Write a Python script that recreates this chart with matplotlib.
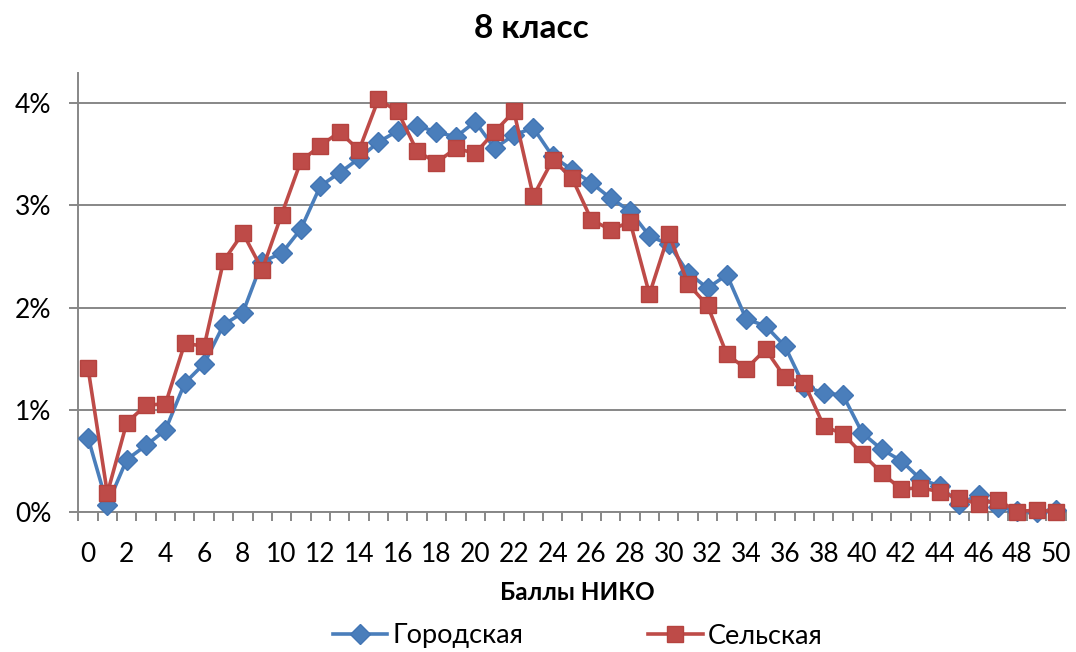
import matplotlib
matplotlib.use('Agg')
import matplotlib.pyplot as plt

# ---- data (percent of participants by score) ----
scores = list(range(51))
gorodskaya = [0.725, 0.066, 0.51, 0.65, 0.80, 1.26, 1.45, 1.83, 1.95, 2.45,
              2.53, 2.77, 3.19, 3.32, 3.46, 3.62, 3.73, 3.78, 3.72, 3.67,
              3.82, 3.56, 3.69, 3.76, 3.48, 3.35, 3.22, 3.07, 2.945, 2.70,
              2.62, 2.34, 2.19, 2.32, 1.885, 1.82, 1.62, 1.225, 1.165, 1.14,
              0.77, 0.61, 0.50, 0.32, 0.25, 0.08, 0.16, 0.05, 0.01, 0.0, 0.02]
selskaya = [1.41, 0.18, 0.87, 1.045, 1.055, 1.65, 1.62, 2.455, 2.73, 2.37,
            2.91, 3.435, 3.585, 3.72, 3.54, 4.04, 3.92, 3.53, 3.42, 3.56,
            3.51, 3.72, 3.92, 3.09, 3.445, 3.27, 2.86, 2.76, 2.84, 2.13,
            2.72, 2.23, 2.02, 1.54, 1.40, 1.59, 1.315, 1.26, 0.84, 0.76,
            0.565, 0.38, 0.22, 0.235, 0.195, 0.13, 0.075, 0.115, 0.0, 0.017, 0.0]
series_names = ['Городская', 'Сельская']
y_ticks = [0, 1, 2, 3, 4]
y_tick_labels = ['0%', '1%', '2%', '3%', '4%']
x_tick_values = scores[::2]
x_tick_labels = [str(v) for v in x_tick_values]
title = '8 класс'
x_label = 'Баллы НИКО'

FONT = ['Lato', 'Open Sans', 'DejaVu Sans']
plt.rcParams['font.family'] = FONT

W, H = 1076, 652
fig = plt.figure(figsize=(W / 100, H / 100), dpi=100)
left, right, top, bottom = 78.3, 1065.7, 73.3, 511.7
ax = fig.add_axes([left / W, 1 - bottom / H, (right - left) / W, (bottom - top) / H])

grid_c = '#878787'
blue = '#4A7EBB'
red = '#BE4B48'

ax.plot(scores, gorodskaya, color=blue, lw=2.6, marker='D', ms=10,
        mfc=blue, mec='#4275B4', mew=1, label=series_names[0], clip_on=False, zorder=3)
ax.plot(scores, selskaya, color=red, lw=2.6, marker='s', ms=11.5,
        mfc=red, mec='#B5433F', mew=1, label=series_names[1], clip_on=False, zorder=4)

ax.set_xlim(-0.5, 50.5)
ax.set_ylim(0, 4.294)

ax.set_yticks(y_ticks)
ax.set_yticklabels(y_tick_labels)
ax.yaxis.grid(True, color=grid_c, lw=1.4)
ax.set_axisbelow(True)

for s in ['top', 'right']:
    ax.spines[s].set_visible(False)
for s in ['left', 'bottom']:
    ax.spines[s].set_color(grid_c)
    ax.spines[s].set_linewidth(1.4)

ax.set_xticks(x_tick_values)
ax.set_xticklabels(x_tick_labels)
ax.set_xticks([i - 0.5 for i in range(len(scores) + 1)], minor=True)
ax.tick_params(axis='x', which='major', length=0, pad=22, labelsize=19)
ax.tick_params(axis='x', which='minor', length=6.5, width=1.4, color=grid_c, direction='out')
ax.tick_params(axis='y', which='major', length=6.5, width=1.4, color=grid_c, pad=13, labelsize=19)

fig.text(531 / W, 1 - 29 / H, title, ha='center', va='center', fontsize=24, fontweight='bold')
fig.text(577 / W, 1 - 592 / H, x_label, ha='center', va='center', fontsize=17.5, fontweight='bold')

fig.legend(loc='center', bbox_to_anchor=(578 / W, 1 - 636 / H), ncol=2, frameon=False,
           fontsize=19.5, handlelength=2.0, handletextpad=0.2, columnspacing=4.6)

fig.savefig('out.png', dpi=100)
